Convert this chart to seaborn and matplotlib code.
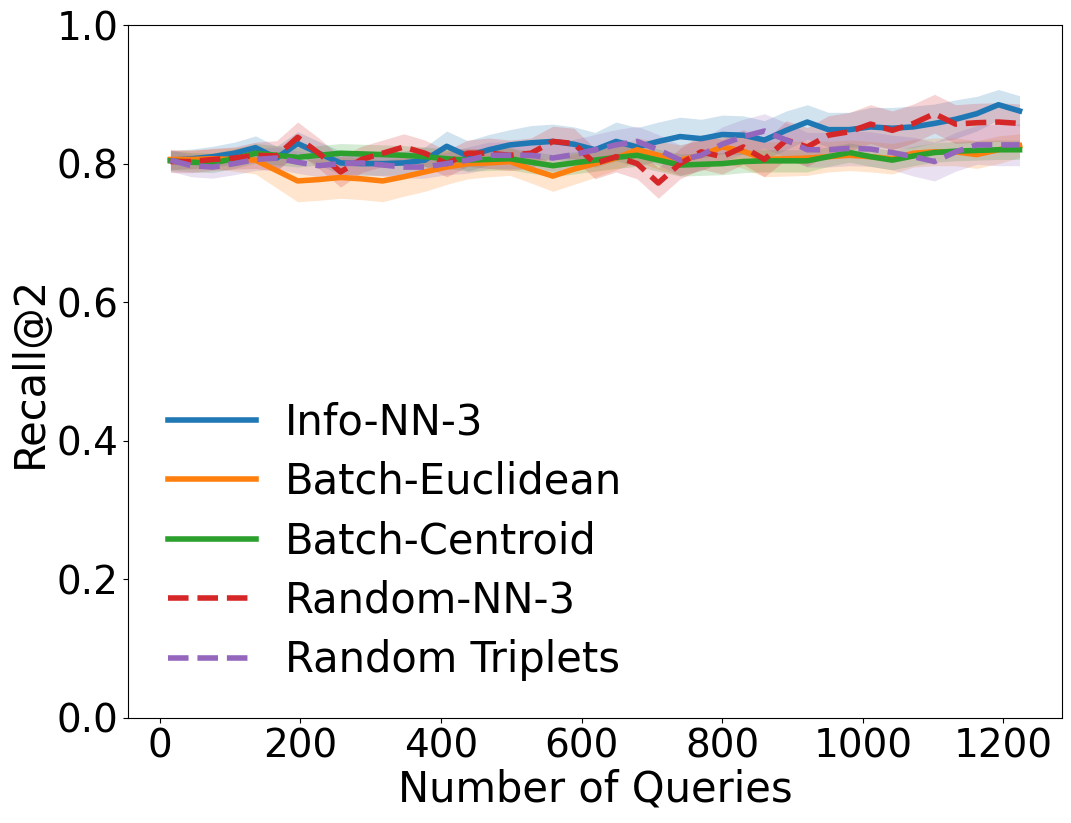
import matplotlib
matplotlib.use('Agg')
import matplotlib.pyplot as plt
import numpy as np
import seaborn as sns

# number of queries (x axis)
queries = [15, 45, 75, 106, 136, 166, 196, 226, 257, 287, 317, 347, 377, 408, 438,
           468, 498, 528, 559, 589, 619, 649, 679, 709, 740, 770, 800, 830, 860, 891,
           921, 951, 981, 1011, 1042, 1072, 1102, 1132, 1162, 1193, 1223]

info_nn3 = [.805, .807, .810, .815, .823, .808, .829, .815, .801, .800, .800, .801, .805, .825, .811,
            .820, .827, .830, .832, .828, .820, .832, .824, .832, .839, .836, .842, .841, .834, .848,
            .860, .849, .849, .853, .851, .853, .858, .864, .872, .885, .876]
batch_euclidean = [.806, .806, .807, .806, .805, .790, .775, .777, .780, .778, .775, .781, .788, .795, .800,
                   .801, .803, .792, .782, .792, .800, .808, .820, .812, .805, .812, .824, .818, .806, .807,
                   .808, .810, .812, .810, .807, .815, .817, .817, .813, .820, .826]
batch_centroid = [.804, .802, .801, .807, .815, .812, .809, .812, .815, .814, .813, .812, .810, .807, .805,
                  .806, .807, .802, .797, .801, .805, .809, .812, .805, .798, .799, .800, .803, .804, .804,
                  .804, .810, .816, .810, .805, .811, .816, .818, .819, .820, .820]
random_nn3 = [.803, .803, .806, .808, .812, .811, .838, .815, .788, .806, .815, .824, .815, .800, .815,
              .815, .812, .815, .832, .829, .800, .810, .800, .772, .800, .817, .810, .824, .806, .834,
              .824, .841, .846, .857, .848, .858, .872, .857, .859, .860, .858]
random_triplets = [.805, .797, .795, .800, .806, .808, .802, .797, .800, .801, .798, .795, .795, .800, .805,
                   .812, .812, .812, .808, .813, .820, .827, .832, .820, .805, .812, .828, .839, .847, .834,
                   .820, .820, .822, .821, .816, .810, .803, .817, .827, .827, .827]

# half-width of the shaded band
info_nn3_err = [.014, .014, .015, .016, .017, .017, .017, .017, .017, .017, .017, .017, .019, .022, .022,
                .022, .022, .025, .025, .025, .025, .028, .028, .028, .028, .028, .028, .028, .028, .028,
                .025, .025, .025, .028, .030, .030, .028, .028, .025, .022, .022]
batch_euclidean_err = [.014, .014, .014, .017, .020, .025, .030, .030, .030, .030, .030, .028, .028, .025, .022,
                       .020, .020, .020, .022, .022, .020, .017, .017, .020, .022, .022, .022, .025, .025, .025,
                       .025, .022, .022, .022, .022, .020, .020, .020, .020, .020, .017]
batch_centroid_err = [.014, .014, .014, .014, .014, .014, .014, .014, .014, .014, .014, .014, .014, .014, .016,
                      .016, .016, .016, .016, .016, .016, .016, .016, .016, .016, .016, .016, .016, .016, .016,
                      .016, .014, .014, .014, .014, .014, .014, .014, .014, .014, .014]
random_nn3_err = [.016, .016, .016, .016, .019, .022, .022, .022, .022, .019, .019, .019, .019, .019, .019,
                  .022, .022, .022, .022, .022, .022, .022, .022, .022, .022, .025, .025, .025, .025, .028,
                  .028, .028, .028, .028, .028, .028, .028, .028, .028, .028, .028]
random_triplets_err = [.016, .016, .016, .016, .016, .016, .016, .016, .016, .016, .016, .016, .016, .016, .019,
                       .019, .019, .019, .019, .022, .022, .022, .022, .022, .022, .022, .025, .025, .025, .025,
                       .025, .025, .025, .025, .025, .028, .028, .028, .028, .030, .030]

methods = ['Info-NN-3', 'Batch-Euclidean', 'Batch-Centroid', 'Random-NN-3', 'Random Triplets']
means = [info_nn3, batch_euclidean, batch_centroid, random_nn3, random_triplets]
errors = [info_nn3_err, batch_euclidean_err, batch_centroid_err, random_nn3_err, random_triplets_err]
styles = ['-', '-', '-', '--', '--']
colors = sns.color_palette('tab10', 5)


def main():
    fig = plt.figure(figsize=(10.71, 8.23), dpi=100)
    ax = fig.add_axes([0.1195, 0.1276, 0.8721, 0.842])

    x = np.array(queries)
    for name, m, e, ls, c in zip(methods, means, errors, styles, colors):
        m = np.array(m)
        e = np.array(e)
        sns.lineplot(x=x, y=m, ax=ax, color=c, linestyle=ls, linewidth=4, label=name)
        ax.fill_between(x, m - e, m + e, color=c, alpha=0.2, linewidth=0)

    ax.set_ylim(0, 1)
    ax.set_yticks(np.arange(0, 1.01, 0.2))
    ax.set_xticks(np.arange(0, 1201, 200))
    ax.tick_params(labelsize=28)
    ax.set_xlabel('Number of Queries', fontsize=30, labelpad=2)
    ax.set_ylabel('Recall@2', fontsize=30, labelpad=4)
    ax.legend(loc='lower left', fontsize=30, frameon=False, handlelength=2.1,
              handletextpad=0.7, labelspacing=0.42, bbox_to_anchor=(0.003, -0.001))

    fig.savefig('out.png', dpi=100)


if __name__ == '__main__':
    main()
